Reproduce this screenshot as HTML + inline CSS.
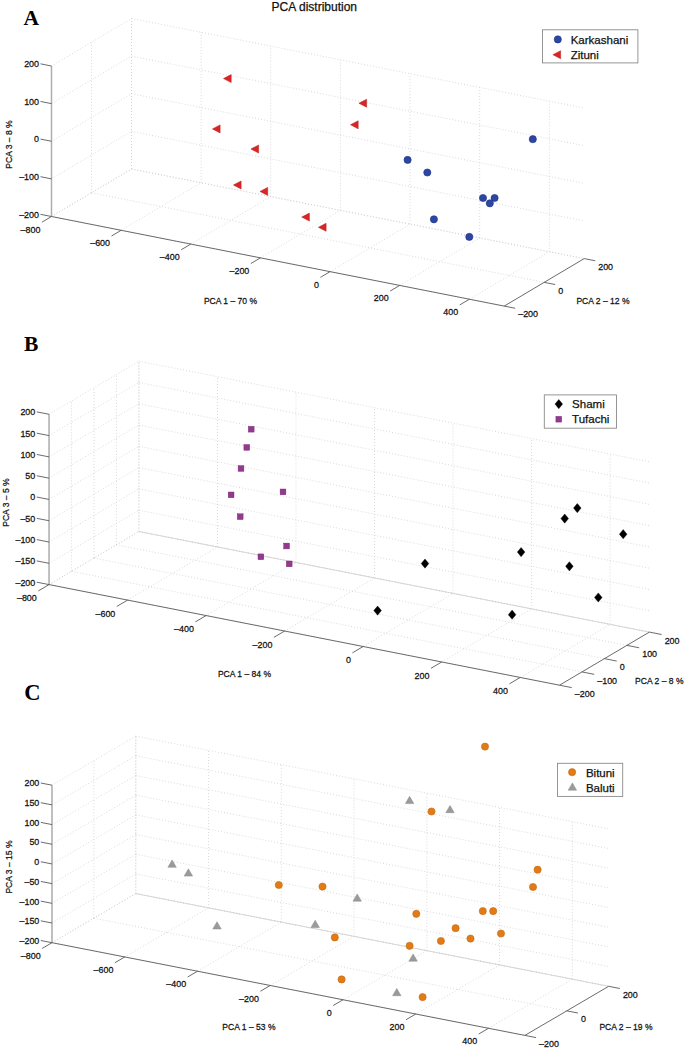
<!DOCTYPE html>
<html><head><meta charset="utf-8"><title>PCA distribution</title>
<style>html,body{margin:0;padding:0;background:#fff;}body{width:685px;height:1049px;overflow:hidden;font-family:"Liberation Sans",sans-serif;}svg{display:block;}</style>
</head><body>
<svg width="685" height="1049" viewBox="0 0 685 1049">
<rect width="100%" height="100%" fill="#fff"/>
<text transform="translate(23.5 24.5)" font-size="21.5" text-anchor="start" fill="#000" font-family='"Liberation Serif", serif' font-weight="bold">A</text>
<text transform="translate(24 351.2)" font-size="21.5" text-anchor="start" fill="#000" font-family='"Liberation Serif", serif' font-weight="bold">B</text>
<text transform="translate(24.2 699.6)" font-size="22.5" text-anchor="start" fill="#000" font-family='"Liberation Serif", serif' font-weight="bold">C</text>
<text transform="translate(314.3 10.5)" font-size="12" text-anchor="middle" fill="#111" font-family='"Liberation Sans", sans-serif' font-weight="normal" stroke="#111" stroke-width="0.25">PCA distribution</text>
<line x1="51.5" y1="216.5" x2="131.5" y2="169" stroke="#cbcbcb" stroke-width="0.8" stroke-dasharray="0.9 2.1"/>
<line x1="121.15" y1="230.28" x2="201.15" y2="182.78" stroke="#cbcbcb" stroke-width="0.8" stroke-dasharray="0.9 2.1"/>
<line x1="190.79" y1="244.07" x2="270.79" y2="196.57" stroke="#cbcbcb" stroke-width="0.8" stroke-dasharray="0.9 2.1"/>
<line x1="260.44" y1="257.85" x2="340.44" y2="210.35" stroke="#cbcbcb" stroke-width="0.8" stroke-dasharray="0.9 2.1"/>
<line x1="330.08" y1="271.64" x2="410.08" y2="224.14" stroke="#cbcbcb" stroke-width="0.8" stroke-dasharray="0.9 2.1"/>
<line x1="399.73" y1="285.42" x2="479.73" y2="237.92" stroke="#cbcbcb" stroke-width="0.8" stroke-dasharray="0.9 2.1"/>
<line x1="469.38" y1="299.2" x2="549.38" y2="251.7" stroke="#cbcbcb" stroke-width="0.8" stroke-dasharray="0.9 2.1"/>
<line x1="51.5" y1="216.5" x2="504.2" y2="306.1" stroke="#cbcbcb" stroke-width="0.8" stroke-dasharray="0.9 2.1"/>
<line x1="91.5" y1="192.75" x2="544.2" y2="282.35" stroke="#cbcbcb" stroke-width="0.8" stroke-dasharray="0.9 2.1"/>
<line x1="131.5" y1="169" x2="584.2" y2="258.6" stroke="#cbcbcb" stroke-width="0.8" stroke-dasharray="0.9 2.1"/>
<line x1="131.5" y1="169" x2="131.5" y2="18.5" stroke="#cbcbcb" stroke-width="0.8" stroke-dasharray="0.9 2.1"/>
<line x1="201.15" y1="182.78" x2="201.15" y2="32.28" stroke="#cbcbcb" stroke-width="0.8" stroke-dasharray="0.9 2.1"/>
<line x1="270.79" y1="196.57" x2="270.79" y2="46.07" stroke="#cbcbcb" stroke-width="0.8" stroke-dasharray="0.9 2.1"/>
<line x1="340.44" y1="210.35" x2="340.44" y2="59.85" stroke="#cbcbcb" stroke-width="0.8" stroke-dasharray="0.9 2.1"/>
<line x1="410.08" y1="224.14" x2="410.08" y2="73.64" stroke="#cbcbcb" stroke-width="0.8" stroke-dasharray="0.9 2.1"/>
<line x1="479.73" y1="237.92" x2="479.73" y2="87.42" stroke="#cbcbcb" stroke-width="0.8" stroke-dasharray="0.9 2.1"/>
<line x1="549.38" y1="251.7" x2="549.38" y2="101.2" stroke="#cbcbcb" stroke-width="0.8" stroke-dasharray="0.9 2.1"/>
<line x1="131.5" y1="169" x2="584.2" y2="258.6" stroke="#cbcbcb" stroke-width="0.8" stroke-dasharray="0.9 2.1"/>
<line x1="131.5" y1="131.38" x2="584.2" y2="220.97" stroke="#cbcbcb" stroke-width="0.8" stroke-dasharray="0.9 2.1"/>
<line x1="131.5" y1="93.75" x2="584.2" y2="183.35" stroke="#cbcbcb" stroke-width="0.8" stroke-dasharray="0.9 2.1"/>
<line x1="131.5" y1="56.13" x2="584.2" y2="145.72" stroke="#cbcbcb" stroke-width="0.8" stroke-dasharray="0.9 2.1"/>
<line x1="131.5" y1="18.5" x2="584.2" y2="108.1" stroke="#cbcbcb" stroke-width="0.8" stroke-dasharray="0.9 2.1"/>
<line x1="51.5" y1="216.5" x2="51.5" y2="66" stroke="#cbcbcb" stroke-width="0.8" stroke-dasharray="0.9 2.1"/>
<line x1="91.5" y1="192.75" x2="91.5" y2="42.25" stroke="#cbcbcb" stroke-width="0.8" stroke-dasharray="0.9 2.1"/>
<line x1="131.5" y1="169" x2="131.5" y2="18.5" stroke="#cbcbcb" stroke-width="0.8" stroke-dasharray="0.9 2.1"/>
<line x1="51.5" y1="216.5" x2="131.5" y2="169" stroke="#cbcbcb" stroke-width="0.8" stroke-dasharray="0.9 2.1"/>
<line x1="51.5" y1="178.88" x2="131.5" y2="131.38" stroke="#cbcbcb" stroke-width="0.8" stroke-dasharray="0.9 2.1"/>
<line x1="51.5" y1="141.25" x2="131.5" y2="93.75" stroke="#cbcbcb" stroke-width="0.8" stroke-dasharray="0.9 2.1"/>
<line x1="51.5" y1="103.63" x2="131.5" y2="56.13" stroke="#cbcbcb" stroke-width="0.8" stroke-dasharray="0.9 2.1"/>
<line x1="51.5" y1="66" x2="131.5" y2="18.5" stroke="#cbcbcb" stroke-width="0.8" stroke-dasharray="0.9 2.1"/>
<line x1="51.5" y1="216.5" x2="51.5" y2="66" stroke="#adadad" stroke-width="1.5"/>
<line x1="51.5" y1="216.5" x2="504.2" y2="306.1" stroke="#5a5a5a" stroke-width="0.9"/>
<line x1="504.2" y1="306.1" x2="584.2" y2="258.6" stroke="#5a5a5a" stroke-width="0.9"/>
<line x1="51.5" y1="216.5" x2="40.51" y2="214.33" stroke="#5a5a5a" stroke-width="0.9"/>
<text transform="translate(39.01 217.73) scale(0.95 1)" font-size="9.4" text-anchor="end" fill="#111" font-family='"Liberation Sans", sans-serif' font-weight="normal" stroke="#111" stroke-width="0.25">–200</text>
<line x1="51.5" y1="178.88" x2="40.51" y2="176.7" stroke="#5a5a5a" stroke-width="0.9"/>
<text transform="translate(39.01 180.1) scale(0.95 1)" font-size="9.4" text-anchor="end" fill="#111" font-family='"Liberation Sans", sans-serif' font-weight="normal" stroke="#111" stroke-width="0.25">–100</text>
<line x1="51.5" y1="141.25" x2="40.51" y2="139.08" stroke="#5a5a5a" stroke-width="0.9"/>
<text transform="translate(39.01 142.48) scale(0.95 1)" font-size="9.4" text-anchor="end" fill="#111" font-family='"Liberation Sans", sans-serif' font-weight="normal" stroke="#111" stroke-width="0.25">0</text>
<line x1="51.5" y1="103.63" x2="40.51" y2="101.45" stroke="#5a5a5a" stroke-width="0.9"/>
<text transform="translate(39.01 104.85) scale(0.95 1)" font-size="9.4" text-anchor="end" fill="#111" font-family='"Liberation Sans", sans-serif' font-weight="normal" stroke="#111" stroke-width="0.25">100</text>
<line x1="51.5" y1="66" x2="40.51" y2="63.83" stroke="#5a5a5a" stroke-width="0.9"/>
<text transform="translate(39.01 67.23) scale(0.95 1)" font-size="9.4" text-anchor="end" fill="#111" font-family='"Liberation Sans", sans-serif' font-weight="normal" stroke="#111" stroke-width="0.25">200</text>
<line x1="51.5" y1="216.5" x2="41.87" y2="222.22" stroke="#5a5a5a" stroke-width="0.9"/>
<text transform="translate(40.37 232.52) scale(0.95 1)" font-size="9.4" text-anchor="end" fill="#111" font-family='"Liberation Sans", sans-serif' font-weight="normal" stroke="#111" stroke-width="0.25">–800</text>
<line x1="121.15" y1="230.28" x2="111.52" y2="236" stroke="#5a5a5a" stroke-width="0.9"/>
<text transform="translate(110.02 246.3) scale(0.95 1)" font-size="9.4" text-anchor="end" fill="#111" font-family='"Liberation Sans", sans-serif' font-weight="normal" stroke="#111" stroke-width="0.25">–600</text>
<line x1="190.79" y1="244.07" x2="181.16" y2="249.79" stroke="#5a5a5a" stroke-width="0.9"/>
<text transform="translate(179.66 260.09) scale(0.95 1)" font-size="9.4" text-anchor="end" fill="#111" font-family='"Liberation Sans", sans-serif' font-weight="normal" stroke="#111" stroke-width="0.25">–400</text>
<line x1="260.44" y1="257.85" x2="250.81" y2="263.57" stroke="#5a5a5a" stroke-width="0.9"/>
<text transform="translate(249.31 273.87) scale(0.95 1)" font-size="9.4" text-anchor="end" fill="#111" font-family='"Liberation Sans", sans-serif' font-weight="normal" stroke="#111" stroke-width="0.25">–200</text>
<line x1="330.08" y1="271.64" x2="320.45" y2="277.35" stroke="#5a5a5a" stroke-width="0.9"/>
<text transform="translate(318.95 287.65) scale(0.95 1)" font-size="9.4" text-anchor="end" fill="#111" font-family='"Liberation Sans", sans-serif' font-weight="normal" stroke="#111" stroke-width="0.25">0</text>
<line x1="399.73" y1="285.42" x2="390.1" y2="291.14" stroke="#5a5a5a" stroke-width="0.9"/>
<text transform="translate(388.6 301.44) scale(0.95 1)" font-size="9.4" text-anchor="end" fill="#111" font-family='"Liberation Sans", sans-serif' font-weight="normal" stroke="#111" stroke-width="0.25">200</text>
<line x1="469.38" y1="299.2" x2="459.75" y2="304.92" stroke="#5a5a5a" stroke-width="0.9"/>
<text transform="translate(458.25 315.22) scale(0.95 1)" font-size="9.4" text-anchor="end" fill="#111" font-family='"Liberation Sans", sans-serif' font-weight="normal" stroke="#111" stroke-width="0.25">400</text>
<line x1="504.2" y1="306.1" x2="515.19" y2="308.27" stroke="#5a5a5a" stroke-width="0.9"/>
<text transform="translate(518.19 317.47) scale(0.95 1)" font-size="9.4" text-anchor="start" fill="#111" font-family='"Liberation Sans", sans-serif' font-weight="normal" stroke="#111" stroke-width="0.25">–200</text>
<line x1="544.2" y1="282.35" x2="555.19" y2="284.52" stroke="#5a5a5a" stroke-width="0.9"/>
<text transform="translate(558.19 293.72) scale(0.95 1)" font-size="9.4" text-anchor="start" fill="#111" font-family='"Liberation Sans", sans-serif' font-weight="normal" stroke="#111" stroke-width="0.25">0</text>
<line x1="584.2" y1="258.6" x2="595.19" y2="260.77" stroke="#5a5a5a" stroke-width="0.9"/>
<text transform="translate(598.19 269.97) scale(0.95 1)" font-size="9.4" text-anchor="start" fill="#111" font-family='"Liberation Sans", sans-serif' font-weight="normal" stroke="#111" stroke-width="0.25">200</text>
<text transform="translate(230.5 304.3) scale(0.89 1)" font-size="9.6" text-anchor="middle" fill="#111" font-family='"Liberation Sans", sans-serif' font-weight="normal" stroke="#111" stroke-width="0.25">PCA 1 – 70 %</text>
<text transform="translate(603 304.3) scale(0.89 1)" font-size="9.6" text-anchor="middle" fill="#111" font-family='"Liberation Sans", sans-serif' font-weight="normal" stroke="#111" stroke-width="0.25">PCA 2 – 12 %</text>
<text transform="translate(11.8 144.5) rotate(-90) scale(0.89 1)" font-size="9.6" text-anchor="middle" fill="#111" font-family='"Liberation Sans", sans-serif' font-weight="normal" stroke="#111" stroke-width="0.25">PCA 3 – 8 %</text>
<polygon points="223.5,78.6 231.2,74.6 231.2,82.6" fill="#dd2424" stroke="#b01e1e" stroke-width="0.5"/>
<polygon points="358.9,103.2 366.6,99.2 366.6,107.2" fill="#dd2424" stroke="#b01e1e" stroke-width="0.5"/>
<polygon points="350.5,124.8 358.2,120.8 358.2,128.8" fill="#dd2424" stroke="#b01e1e" stroke-width="0.5"/>
<polygon points="212.4,128.9 220.1,124.9 220.1,132.9" fill="#dd2424" stroke="#b01e1e" stroke-width="0.5"/>
<polygon points="250.9,149 258.6,145 258.6,153" fill="#dd2424" stroke="#b01e1e" stroke-width="0.5"/>
<polygon points="233.4,185 241.1,181 241.1,189" fill="#dd2424" stroke="#b01e1e" stroke-width="0.5"/>
<polygon points="260,191.4 267.7,187.4 267.7,195.4" fill="#dd2424" stroke="#b01e1e" stroke-width="0.5"/>
<polygon points="301.7,217.1 309.4,213.1 309.4,221.1" fill="#dd2424" stroke="#b01e1e" stroke-width="0.5"/>
<polygon points="318.4,227.3 326.1,223.3 326.1,231.3" fill="#dd2424" stroke="#b01e1e" stroke-width="0.5"/>
<circle cx="532.8" cy="139.2" r="3.6" fill="#2b46a3" stroke="#1f3385" stroke-width="0.6"/>
<circle cx="407.6" cy="159.9" r="3.6" fill="#2b46a3" stroke="#1f3385" stroke-width="0.6"/>
<circle cx="427.3" cy="172.5" r="3.6" fill="#2b46a3" stroke="#1f3385" stroke-width="0.6"/>
<circle cx="483" cy="198" r="3.6" fill="#2b46a3" stroke="#1f3385" stroke-width="0.6"/>
<circle cx="494.6" cy="198" r="3.6" fill="#2b46a3" stroke="#1f3385" stroke-width="0.6"/>
<circle cx="489.8" cy="203.3" r="3.6" fill="#2b46a3" stroke="#1f3385" stroke-width="0.6"/>
<circle cx="433.9" cy="219.3" r="3.6" fill="#2b46a3" stroke="#1f3385" stroke-width="0.6"/>
<circle cx="469.3" cy="236.9" r="3.6" fill="#2b46a3" stroke="#1f3385" stroke-width="0.6"/>
<rect x="542.5" y="29.8" width="95.4" height="33.1" fill="#fff" stroke="#8a8a8a" stroke-width="0.9"/>
<circle cx="557.8" cy="39.4" r="3.6" fill="#2b46a3" stroke="#1f3385" stroke-width="0.6"/>
<text transform="translate(570.7 43.5)" font-size="11.5" text-anchor="start" fill="#111" font-family='"Liberation Sans", sans-serif' font-weight="normal" stroke="#111" stroke-width="0.25">Karkashani</text>
<polygon points="552.9,54.7 560.6,50.7 560.6,58.7" fill="#dd2424" stroke="#b01e1e" stroke-width="0.5"/>
<text transform="translate(570.7 58.8)" font-size="11.5" text-anchor="start" fill="#111" font-family='"Liberation Sans", sans-serif' font-weight="normal" stroke="#111" stroke-width="0.25">Zituni</text>
<line x1="49.05" y1="584.6" x2="138.95" y2="531.5" stroke="#cbcbcb" stroke-width="0.8" stroke-dasharray="0.9 2.1"/>
<line x1="127.58" y1="600.08" x2="217.48" y2="546.98" stroke="#cbcbcb" stroke-width="0.8" stroke-dasharray="0.9 2.1"/>
<line x1="206.11" y1="615.55" x2="296.01" y2="562.45" stroke="#cbcbcb" stroke-width="0.8" stroke-dasharray="0.9 2.1"/>
<line x1="284.64" y1="631.03" x2="374.54" y2="577.93" stroke="#cbcbcb" stroke-width="0.8" stroke-dasharray="0.9 2.1"/>
<line x1="363.17" y1="646.5" x2="453.07" y2="593.4" stroke="#cbcbcb" stroke-width="0.8" stroke-dasharray="0.9 2.1"/>
<line x1="441.7" y1="661.98" x2="531.6" y2="608.88" stroke="#cbcbcb" stroke-width="0.8" stroke-dasharray="0.9 2.1"/>
<line x1="520.23" y1="677.46" x2="610.13" y2="624.36" stroke="#cbcbcb" stroke-width="0.8" stroke-dasharray="0.9 2.1"/>
<line x1="49.05" y1="584.6" x2="559.5" y2="685.19" stroke="#cbcbcb" stroke-width="0.8" stroke-dasharray="0.9 2.1"/>
<line x1="71.53" y1="571.33" x2="581.97" y2="671.92" stroke="#cbcbcb" stroke-width="0.8" stroke-dasharray="0.9 2.1"/>
<line x1="94" y1="558.05" x2="604.45" y2="658.64" stroke="#cbcbcb" stroke-width="0.8" stroke-dasharray="0.9 2.1"/>
<line x1="116.47" y1="544.77" x2="626.92" y2="645.37" stroke="#cbcbcb" stroke-width="0.8" stroke-dasharray="0.9 2.1"/>
<line x1="138.95" y1="531.5" x2="649.39" y2="632.09" stroke="#cbcbcb" stroke-width="0.8" stroke-dasharray="0.9 2.1"/>
<line x1="138.95" y1="531.5" x2="138.95" y2="361.2" stroke="#cbcbcb" stroke-width="0.8" stroke-dasharray="0.9 2.1"/>
<line x1="217.48" y1="546.98" x2="217.48" y2="376.68" stroke="#cbcbcb" stroke-width="0.8" stroke-dasharray="0.9 2.1"/>
<line x1="296.01" y1="562.45" x2="296.01" y2="392.15" stroke="#cbcbcb" stroke-width="0.8" stroke-dasharray="0.9 2.1"/>
<line x1="374.54" y1="577.93" x2="374.54" y2="407.63" stroke="#cbcbcb" stroke-width="0.8" stroke-dasharray="0.9 2.1"/>
<line x1="453.07" y1="593.4" x2="453.07" y2="423.1" stroke="#cbcbcb" stroke-width="0.8" stroke-dasharray="0.9 2.1"/>
<line x1="531.6" y1="608.88" x2="531.6" y2="438.58" stroke="#cbcbcb" stroke-width="0.8" stroke-dasharray="0.9 2.1"/>
<line x1="610.13" y1="624.36" x2="610.13" y2="454.06" stroke="#cbcbcb" stroke-width="0.8" stroke-dasharray="0.9 2.1"/>
<line x1="138.95" y1="531.5" x2="649.39" y2="632.09" stroke="#cbcbcb" stroke-width="0.8" stroke-dasharray="0.9 2.1"/>
<line x1="138.95" y1="510.21" x2="649.39" y2="610.81" stroke="#cbcbcb" stroke-width="0.8" stroke-dasharray="0.9 2.1"/>
<line x1="138.95" y1="488.93" x2="649.39" y2="589.52" stroke="#cbcbcb" stroke-width="0.8" stroke-dasharray="0.9 2.1"/>
<line x1="138.95" y1="467.64" x2="649.39" y2="568.23" stroke="#cbcbcb" stroke-width="0.8" stroke-dasharray="0.9 2.1"/>
<line x1="138.95" y1="446.35" x2="649.39" y2="546.94" stroke="#cbcbcb" stroke-width="0.8" stroke-dasharray="0.9 2.1"/>
<line x1="138.95" y1="425.06" x2="649.39" y2="525.66" stroke="#cbcbcb" stroke-width="0.8" stroke-dasharray="0.9 2.1"/>
<line x1="138.95" y1="403.77" x2="649.39" y2="504.37" stroke="#cbcbcb" stroke-width="0.8" stroke-dasharray="0.9 2.1"/>
<line x1="138.95" y1="382.49" x2="649.39" y2="483.08" stroke="#cbcbcb" stroke-width="0.8" stroke-dasharray="0.9 2.1"/>
<line x1="138.95" y1="361.2" x2="649.39" y2="461.79" stroke="#cbcbcb" stroke-width="0.8" stroke-dasharray="0.9 2.1"/>
<line x1="49.05" y1="584.6" x2="49.05" y2="414.3" stroke="#cbcbcb" stroke-width="0.8" stroke-dasharray="0.9 2.1"/>
<line x1="71.53" y1="571.33" x2="71.53" y2="401.03" stroke="#cbcbcb" stroke-width="0.8" stroke-dasharray="0.9 2.1"/>
<line x1="94" y1="558.05" x2="94" y2="387.75" stroke="#cbcbcb" stroke-width="0.8" stroke-dasharray="0.9 2.1"/>
<line x1="116.47" y1="544.77" x2="116.47" y2="374.47" stroke="#cbcbcb" stroke-width="0.8" stroke-dasharray="0.9 2.1"/>
<line x1="138.95" y1="531.5" x2="138.95" y2="361.2" stroke="#cbcbcb" stroke-width="0.8" stroke-dasharray="0.9 2.1"/>
<line x1="49.05" y1="584.6" x2="138.95" y2="531.5" stroke="#cbcbcb" stroke-width="0.8" stroke-dasharray="0.9 2.1"/>
<line x1="49.05" y1="563.31" x2="138.95" y2="510.21" stroke="#cbcbcb" stroke-width="0.8" stroke-dasharray="0.9 2.1"/>
<line x1="49.05" y1="542.02" x2="138.95" y2="488.93" stroke="#cbcbcb" stroke-width="0.8" stroke-dasharray="0.9 2.1"/>
<line x1="49.05" y1="520.74" x2="138.95" y2="467.64" stroke="#cbcbcb" stroke-width="0.8" stroke-dasharray="0.9 2.1"/>
<line x1="49.05" y1="499.45" x2="138.95" y2="446.35" stroke="#cbcbcb" stroke-width="0.8" stroke-dasharray="0.9 2.1"/>
<line x1="49.05" y1="478.16" x2="138.95" y2="425.06" stroke="#cbcbcb" stroke-width="0.8" stroke-dasharray="0.9 2.1"/>
<line x1="49.05" y1="456.88" x2="138.95" y2="403.77" stroke="#cbcbcb" stroke-width="0.8" stroke-dasharray="0.9 2.1"/>
<line x1="49.05" y1="435.59" x2="138.95" y2="382.49" stroke="#cbcbcb" stroke-width="0.8" stroke-dasharray="0.9 2.1"/>
<line x1="49.05" y1="414.3" x2="138.95" y2="361.2" stroke="#cbcbcb" stroke-width="0.8" stroke-dasharray="0.9 2.1"/>
<line x1="138.95" y1="531.5" x2="649.39" y2="632.09" stroke="#d4d4d4" stroke-width="0.9"/>
<line x1="49.05" y1="584.6" x2="49.05" y2="414.3" stroke="#adadad" stroke-width="1.5"/>
<line x1="49.05" y1="584.6" x2="559.5" y2="685.19" stroke="#5a5a5a" stroke-width="0.9"/>
<line x1="559.5" y1="685.19" x2="649.39" y2="632.09" stroke="#5a5a5a" stroke-width="0.9"/>
<line x1="49.05" y1="584.6" x2="36.79" y2="582.18" stroke="#5a5a5a" stroke-width="0.9"/>
<text transform="translate(35.29 585.58) scale(0.95 1)" font-size="9.4" text-anchor="end" fill="#111" font-family='"Liberation Sans", sans-serif' font-weight="normal" stroke="#111" stroke-width="0.25">–200</text>
<line x1="49.05" y1="563.31" x2="36.79" y2="560.9" stroke="#5a5a5a" stroke-width="0.9"/>
<text transform="translate(35.29 564.3) scale(0.95 1)" font-size="9.4" text-anchor="end" fill="#111" font-family='"Liberation Sans", sans-serif' font-weight="normal" stroke="#111" stroke-width="0.25">–150</text>
<line x1="49.05" y1="542.02" x2="36.79" y2="539.61" stroke="#5a5a5a" stroke-width="0.9"/>
<text transform="translate(35.29 543.01) scale(0.95 1)" font-size="9.4" text-anchor="end" fill="#111" font-family='"Liberation Sans", sans-serif' font-weight="normal" stroke="#111" stroke-width="0.25">–100</text>
<line x1="49.05" y1="520.74" x2="36.79" y2="518.32" stroke="#5a5a5a" stroke-width="0.9"/>
<text transform="translate(35.29 521.72) scale(0.95 1)" font-size="9.4" text-anchor="end" fill="#111" font-family='"Liberation Sans", sans-serif' font-weight="normal" stroke="#111" stroke-width="0.25">–50</text>
<line x1="49.05" y1="499.45" x2="36.79" y2="497.03" stroke="#5a5a5a" stroke-width="0.9"/>
<text transform="translate(35.29 500.43) scale(0.95 1)" font-size="9.4" text-anchor="end" fill="#111" font-family='"Liberation Sans", sans-serif' font-weight="normal" stroke="#111" stroke-width="0.25">0</text>
<line x1="49.05" y1="478.16" x2="36.79" y2="475.75" stroke="#5a5a5a" stroke-width="0.9"/>
<text transform="translate(35.29 479.15) scale(0.95 1)" font-size="9.4" text-anchor="end" fill="#111" font-family='"Liberation Sans", sans-serif' font-weight="normal" stroke="#111" stroke-width="0.25">50</text>
<line x1="49.05" y1="456.88" x2="36.79" y2="454.46" stroke="#5a5a5a" stroke-width="0.9"/>
<text transform="translate(35.29 457.86) scale(0.95 1)" font-size="9.4" text-anchor="end" fill="#111" font-family='"Liberation Sans", sans-serif' font-weight="normal" stroke="#111" stroke-width="0.25">100</text>
<line x1="49.05" y1="435.59" x2="36.79" y2="433.17" stroke="#5a5a5a" stroke-width="0.9"/>
<text transform="translate(35.29 436.57) scale(0.95 1)" font-size="9.4" text-anchor="end" fill="#111" font-family='"Liberation Sans", sans-serif' font-weight="normal" stroke="#111" stroke-width="0.25">150</text>
<line x1="49.05" y1="414.3" x2="36.79" y2="411.88" stroke="#5a5a5a" stroke-width="0.9"/>
<text transform="translate(35.29 415.28) scale(0.95 1)" font-size="9.4" text-anchor="end" fill="#111" font-family='"Liberation Sans", sans-serif' font-weight="normal" stroke="#111" stroke-width="0.25">200</text>
<line x1="49.05" y1="584.6" x2="38.29" y2="590.96" stroke="#5a5a5a" stroke-width="0.9"/>
<text transform="translate(36.79 601.26) scale(0.95 1)" font-size="9.4" text-anchor="end" fill="#111" font-family='"Liberation Sans", sans-serif' font-weight="normal" stroke="#111" stroke-width="0.25">–800</text>
<line x1="127.58" y1="600.08" x2="116.82" y2="606.43" stroke="#5a5a5a" stroke-width="0.9"/>
<text transform="translate(115.32 616.73) scale(0.95 1)" font-size="9.4" text-anchor="end" fill="#111" font-family='"Liberation Sans", sans-serif' font-weight="normal" stroke="#111" stroke-width="0.25">–600</text>
<line x1="206.11" y1="615.55" x2="195.35" y2="621.91" stroke="#5a5a5a" stroke-width="0.9"/>
<text transform="translate(193.85 632.21) scale(0.95 1)" font-size="9.4" text-anchor="end" fill="#111" font-family='"Liberation Sans", sans-serif' font-weight="normal" stroke="#111" stroke-width="0.25">–400</text>
<line x1="284.64" y1="631.03" x2="273.88" y2="637.39" stroke="#5a5a5a" stroke-width="0.9"/>
<text transform="translate(272.38 647.69) scale(0.95 1)" font-size="9.4" text-anchor="end" fill="#111" font-family='"Liberation Sans", sans-serif' font-weight="normal" stroke="#111" stroke-width="0.25">–200</text>
<line x1="363.17" y1="646.5" x2="352.41" y2="652.86" stroke="#5a5a5a" stroke-width="0.9"/>
<text transform="translate(350.91 663.16) scale(0.95 1)" font-size="9.4" text-anchor="end" fill="#111" font-family='"Liberation Sans", sans-serif' font-weight="normal" stroke="#111" stroke-width="0.25">0</text>
<line x1="441.7" y1="661.98" x2="430.94" y2="668.34" stroke="#5a5a5a" stroke-width="0.9"/>
<text transform="translate(429.44 678.64) scale(0.95 1)" font-size="9.4" text-anchor="end" fill="#111" font-family='"Liberation Sans", sans-serif' font-weight="normal" stroke="#111" stroke-width="0.25">200</text>
<line x1="520.23" y1="677.46" x2="509.47" y2="683.81" stroke="#5a5a5a" stroke-width="0.9"/>
<text transform="translate(507.97 694.11) scale(0.95 1)" font-size="9.4" text-anchor="end" fill="#111" font-family='"Liberation Sans", sans-serif' font-weight="normal" stroke="#111" stroke-width="0.25">400</text>
<line x1="559.5" y1="685.19" x2="571.76" y2="687.61" stroke="#5a5a5a" stroke-width="0.9"/>
<text transform="translate(574.76 696.81) scale(0.95 1)" font-size="9.4" text-anchor="start" fill="#111" font-family='"Liberation Sans", sans-serif' font-weight="normal" stroke="#111" stroke-width="0.25">–200</text>
<line x1="581.97" y1="671.92" x2="594.23" y2="674.34" stroke="#5a5a5a" stroke-width="0.9"/>
<text transform="translate(597.23 683.54) scale(0.95 1)" font-size="9.4" text-anchor="start" fill="#111" font-family='"Liberation Sans", sans-serif' font-weight="normal" stroke="#111" stroke-width="0.25">–100</text>
<line x1="604.45" y1="658.64" x2="616.71" y2="661.06" stroke="#5a5a5a" stroke-width="0.9"/>
<text transform="translate(619.71 670.26) scale(0.95 1)" font-size="9.4" text-anchor="start" fill="#111" font-family='"Liberation Sans", sans-serif' font-weight="normal" stroke="#111" stroke-width="0.25">0</text>
<line x1="626.92" y1="645.37" x2="639.18" y2="647.79" stroke="#5a5a5a" stroke-width="0.9"/>
<text transform="translate(642.18 656.99) scale(0.95 1)" font-size="9.4" text-anchor="start" fill="#111" font-family='"Liberation Sans", sans-serif' font-weight="normal" stroke="#111" stroke-width="0.25">100</text>
<line x1="649.39" y1="632.09" x2="661.66" y2="634.51" stroke="#5a5a5a" stroke-width="0.9"/>
<text transform="translate(664.66 643.71) scale(0.95 1)" font-size="9.4" text-anchor="start" fill="#111" font-family='"Liberation Sans", sans-serif' font-weight="normal" stroke="#111" stroke-width="0.25">200</text>
<text transform="translate(244.5 677.3) scale(0.89 1)" font-size="9.6" text-anchor="middle" fill="#111" font-family='"Liberation Sans", sans-serif' font-weight="normal" stroke="#111" stroke-width="0.25">PCA 1 – 84 %</text>
<text transform="translate(659.3 684) scale(0.89 1)" font-size="9.6" text-anchor="middle" fill="#111" font-family='"Liberation Sans", sans-serif' font-weight="normal" stroke="#111" stroke-width="0.25">PCA 2 – 8 %</text>
<text transform="translate(8.6 502.6) rotate(-90) scale(0.89 1)" font-size="9.6" text-anchor="middle" fill="#111" font-family='"Liberation Sans", sans-serif' font-weight="normal" stroke="#111" stroke-width="0.25">PCA 3 – 5 %</text>
<rect x="248.3" y="426.3" width="5.8" height="5.8" fill="#94398f" stroke="#74296f" stroke-width="0.4"/>
<rect x="243.9" y="444.5" width="5.8" height="5.8" fill="#94398f" stroke="#74296f" stroke-width="0.4"/>
<rect x="238.1" y="465.6" width="5.8" height="5.8" fill="#94398f" stroke="#74296f" stroke-width="0.4"/>
<rect x="228.2" y="492" width="5.8" height="5.8" fill="#94398f" stroke="#74296f" stroke-width="0.4"/>
<rect x="280.1" y="489" width="5.8" height="5.8" fill="#94398f" stroke="#74296f" stroke-width="0.4"/>
<rect x="237.3" y="513.8" width="5.8" height="5.8" fill="#94398f" stroke="#74296f" stroke-width="0.4"/>
<rect x="283.7" y="543.1" width="5.8" height="5.8" fill="#94398f" stroke="#74296f" stroke-width="0.4"/>
<rect x="258" y="553.9" width="5.8" height="5.8" fill="#94398f" stroke="#74296f" stroke-width="0.4"/>
<rect x="286.3" y="561" width="5.8" height="5.8" fill="#94398f" stroke="#74296f" stroke-width="0.4"/>
<polygon points="577.3,503.5 581.1,508.1 577.3,512.7 573.5,508.1" fill="#000" stroke="#000" stroke-width="0.4"/>
<polygon points="564.7,514 568.5,518.6 564.7,523.2 560.9,518.6" fill="#000" stroke="#000" stroke-width="0.4"/>
<polygon points="623.2,529.6 627,534.2 623.2,538.8 619.4,534.2" fill="#000" stroke="#000" stroke-width="0.4"/>
<polygon points="521.1,547.5 524.9,552.1 521.1,556.7 517.3,552.1" fill="#000" stroke="#000" stroke-width="0.4"/>
<polygon points="425,559 428.8,563.6 425,568.2 421.2,563.6" fill="#000" stroke="#000" stroke-width="0.4"/>
<polygon points="569.4,561.7 573.2,566.3 569.4,570.9 565.6,566.3" fill="#000" stroke="#000" stroke-width="0.4"/>
<polygon points="598.3,592.9 602.1,597.5 598.3,602.1 594.5,597.5" fill="#000" stroke="#000" stroke-width="0.4"/>
<polygon points="377.6,606 381.4,610.6 377.6,615.2 373.8,610.6" fill="#000" stroke="#000" stroke-width="0.4"/>
<polygon points="512.1,610.1 515.9,614.7 512.1,619.3 508.3,614.7" fill="#000" stroke="#000" stroke-width="0.4"/>
<rect x="544.3" y="394.9" width="72.2" height="33.3" fill="#fff" stroke="#8a8a8a" stroke-width="0.9"/>
<polygon points="558.8,399.5 562.6,404.1 558.8,408.7 555,404.1" fill="#000" stroke="#000" stroke-width="0.4"/>
<text transform="translate(572.1 408.2)" font-size="11.5" text-anchor="start" fill="#111" font-family='"Liberation Sans", sans-serif' font-weight="normal" stroke="#111" stroke-width="0.25">Shami</text>
<rect x="555.9" y="416.3" width="5.8" height="5.8" fill="#94398f" stroke="#74296f" stroke-width="0.4"/>
<text transform="translate(572.1 423.3)" font-size="11.5" text-anchor="start" fill="#111" font-family='"Liberation Sans", sans-serif' font-weight="normal" stroke="#111" stroke-width="0.25">Tufachi</text>
<line x1="52" y1="942.7" x2="135.8" y2="893.6" stroke="#cbcbcb" stroke-width="0.8" stroke-dasharray="0.9 2.1"/>
<line x1="124.75" y1="956.96" x2="208.55" y2="907.86" stroke="#cbcbcb" stroke-width="0.8" stroke-dasharray="0.9 2.1"/>
<line x1="197.51" y1="971.22" x2="281.31" y2="922.12" stroke="#cbcbcb" stroke-width="0.8" stroke-dasharray="0.9 2.1"/>
<line x1="270.26" y1="985.49" x2="354.06" y2="936.39" stroke="#cbcbcb" stroke-width="0.8" stroke-dasharray="0.9 2.1"/>
<line x1="343.02" y1="999.75" x2="426.82" y2="950.65" stroke="#cbcbcb" stroke-width="0.8" stroke-dasharray="0.9 2.1"/>
<line x1="415.77" y1="1014.01" x2="499.57" y2="964.91" stroke="#cbcbcb" stroke-width="0.8" stroke-dasharray="0.9 2.1"/>
<line x1="488.52" y1="1028.27" x2="572.32" y2="979.17" stroke="#cbcbcb" stroke-width="0.8" stroke-dasharray="0.9 2.1"/>
<line x1="52" y1="942.7" x2="524.9" y2="1035.4" stroke="#cbcbcb" stroke-width="0.8" stroke-dasharray="0.9 2.1"/>
<line x1="93.9" y1="918.15" x2="566.8" y2="1010.85" stroke="#cbcbcb" stroke-width="0.8" stroke-dasharray="0.9 2.1"/>
<line x1="135.8" y1="893.6" x2="608.7" y2="986.3" stroke="#cbcbcb" stroke-width="0.8" stroke-dasharray="0.9 2.1"/>
<line x1="135.8" y1="893.6" x2="135.8" y2="736.1" stroke="#cbcbcb" stroke-width="0.8" stroke-dasharray="0.9 2.1"/>
<line x1="208.55" y1="907.86" x2="208.55" y2="750.36" stroke="#cbcbcb" stroke-width="0.8" stroke-dasharray="0.9 2.1"/>
<line x1="281.31" y1="922.12" x2="281.31" y2="764.62" stroke="#cbcbcb" stroke-width="0.8" stroke-dasharray="0.9 2.1"/>
<line x1="354.06" y1="936.39" x2="354.06" y2="778.89" stroke="#cbcbcb" stroke-width="0.8" stroke-dasharray="0.9 2.1"/>
<line x1="426.82" y1="950.65" x2="426.82" y2="793.15" stroke="#cbcbcb" stroke-width="0.8" stroke-dasharray="0.9 2.1"/>
<line x1="499.57" y1="964.91" x2="499.57" y2="807.41" stroke="#cbcbcb" stroke-width="0.8" stroke-dasharray="0.9 2.1"/>
<line x1="572.32" y1="979.17" x2="572.32" y2="821.67" stroke="#cbcbcb" stroke-width="0.8" stroke-dasharray="0.9 2.1"/>
<line x1="135.8" y1="893.6" x2="608.7" y2="986.3" stroke="#cbcbcb" stroke-width="0.8" stroke-dasharray="0.9 2.1"/>
<line x1="135.8" y1="873.91" x2="608.7" y2="966.62" stroke="#cbcbcb" stroke-width="0.8" stroke-dasharray="0.9 2.1"/>
<line x1="135.8" y1="854.23" x2="608.7" y2="946.93" stroke="#cbcbcb" stroke-width="0.8" stroke-dasharray="0.9 2.1"/>
<line x1="135.8" y1="834.54" x2="608.7" y2="927.24" stroke="#cbcbcb" stroke-width="0.8" stroke-dasharray="0.9 2.1"/>
<line x1="135.8" y1="814.85" x2="608.7" y2="907.55" stroke="#cbcbcb" stroke-width="0.8" stroke-dasharray="0.9 2.1"/>
<line x1="135.8" y1="795.16" x2="608.7" y2="887.87" stroke="#cbcbcb" stroke-width="0.8" stroke-dasharray="0.9 2.1"/>
<line x1="135.8" y1="775.48" x2="608.7" y2="868.18" stroke="#cbcbcb" stroke-width="0.8" stroke-dasharray="0.9 2.1"/>
<line x1="135.8" y1="755.79" x2="608.7" y2="848.49" stroke="#cbcbcb" stroke-width="0.8" stroke-dasharray="0.9 2.1"/>
<line x1="135.8" y1="736.1" x2="608.7" y2="828.8" stroke="#cbcbcb" stroke-width="0.8" stroke-dasharray="0.9 2.1"/>
<line x1="52" y1="942.7" x2="52" y2="785.2" stroke="#cbcbcb" stroke-width="0.8" stroke-dasharray="0.9 2.1"/>
<line x1="93.9" y1="918.15" x2="93.9" y2="760.65" stroke="#cbcbcb" stroke-width="0.8" stroke-dasharray="0.9 2.1"/>
<line x1="135.8" y1="893.6" x2="135.8" y2="736.1" stroke="#cbcbcb" stroke-width="0.8" stroke-dasharray="0.9 2.1"/>
<line x1="52" y1="942.7" x2="135.8" y2="893.6" stroke="#cbcbcb" stroke-width="0.8" stroke-dasharray="0.9 2.1"/>
<line x1="52" y1="923.01" x2="135.8" y2="873.91" stroke="#cbcbcb" stroke-width="0.8" stroke-dasharray="0.9 2.1"/>
<line x1="52" y1="903.33" x2="135.8" y2="854.23" stroke="#cbcbcb" stroke-width="0.8" stroke-dasharray="0.9 2.1"/>
<line x1="52" y1="883.64" x2="135.8" y2="834.54" stroke="#cbcbcb" stroke-width="0.8" stroke-dasharray="0.9 2.1"/>
<line x1="52" y1="863.95" x2="135.8" y2="814.85" stroke="#cbcbcb" stroke-width="0.8" stroke-dasharray="0.9 2.1"/>
<line x1="52" y1="844.26" x2="135.8" y2="795.16" stroke="#cbcbcb" stroke-width="0.8" stroke-dasharray="0.9 2.1"/>
<line x1="52" y1="824.58" x2="135.8" y2="775.48" stroke="#cbcbcb" stroke-width="0.8" stroke-dasharray="0.9 2.1"/>
<line x1="52" y1="804.89" x2="135.8" y2="755.79" stroke="#cbcbcb" stroke-width="0.8" stroke-dasharray="0.9 2.1"/>
<line x1="52" y1="785.2" x2="135.8" y2="736.1" stroke="#cbcbcb" stroke-width="0.8" stroke-dasharray="0.9 2.1"/>
<line x1="135.8" y1="893.6" x2="608.7" y2="986.3" stroke="#d4d4d4" stroke-width="0.9"/>
<line x1="52" y1="942.7" x2="52" y2="785.2" stroke="#adadad" stroke-width="1.5"/>
<line x1="52" y1="942.7" x2="524.9" y2="1035.4" stroke="#5a5a5a" stroke-width="0.9"/>
<line x1="524.9" y1="1035.4" x2="608.7" y2="986.3" stroke="#5a5a5a" stroke-width="0.9"/>
<line x1="52" y1="942.7" x2="40.81" y2="940.51" stroke="#5a5a5a" stroke-width="0.9"/>
<text transform="translate(39.31 943.91) scale(0.95 1)" font-size="9.4" text-anchor="end" fill="#111" font-family='"Liberation Sans", sans-serif' font-weight="normal" stroke="#111" stroke-width="0.25">–200</text>
<line x1="52" y1="923.01" x2="40.81" y2="920.82" stroke="#5a5a5a" stroke-width="0.9"/>
<text transform="translate(39.31 924.22) scale(0.95 1)" font-size="9.4" text-anchor="end" fill="#111" font-family='"Liberation Sans", sans-serif' font-weight="normal" stroke="#111" stroke-width="0.25">–150</text>
<line x1="52" y1="903.33" x2="40.81" y2="901.13" stroke="#5a5a5a" stroke-width="0.9"/>
<text transform="translate(39.31 904.53) scale(0.95 1)" font-size="9.4" text-anchor="end" fill="#111" font-family='"Liberation Sans", sans-serif' font-weight="normal" stroke="#111" stroke-width="0.25">–100</text>
<line x1="52" y1="883.64" x2="40.81" y2="881.44" stroke="#5a5a5a" stroke-width="0.9"/>
<text transform="translate(39.31 884.84) scale(0.95 1)" font-size="9.4" text-anchor="end" fill="#111" font-family='"Liberation Sans", sans-serif' font-weight="normal" stroke="#111" stroke-width="0.25">–50</text>
<line x1="52" y1="863.95" x2="40.81" y2="861.76" stroke="#5a5a5a" stroke-width="0.9"/>
<text transform="translate(39.31 865.16) scale(0.95 1)" font-size="9.4" text-anchor="end" fill="#111" font-family='"Liberation Sans", sans-serif' font-weight="normal" stroke="#111" stroke-width="0.25">0</text>
<line x1="52" y1="844.26" x2="40.81" y2="842.07" stroke="#5a5a5a" stroke-width="0.9"/>
<text transform="translate(39.31 845.47) scale(0.95 1)" font-size="9.4" text-anchor="end" fill="#111" font-family='"Liberation Sans", sans-serif' font-weight="normal" stroke="#111" stroke-width="0.25">50</text>
<line x1="52" y1="824.58" x2="40.81" y2="822.38" stroke="#5a5a5a" stroke-width="0.9"/>
<text transform="translate(39.31 825.78) scale(0.95 1)" font-size="9.4" text-anchor="end" fill="#111" font-family='"Liberation Sans", sans-serif' font-weight="normal" stroke="#111" stroke-width="0.25">100</text>
<line x1="52" y1="804.89" x2="40.81" y2="802.69" stroke="#5a5a5a" stroke-width="0.9"/>
<text transform="translate(39.31 806.09) scale(0.95 1)" font-size="9.4" text-anchor="end" fill="#111" font-family='"Liberation Sans", sans-serif' font-weight="normal" stroke="#111" stroke-width="0.25">150</text>
<line x1="52" y1="785.2" x2="40.81" y2="783.01" stroke="#5a5a5a" stroke-width="0.9"/>
<text transform="translate(39.31 786.41) scale(0.95 1)" font-size="9.4" text-anchor="end" fill="#111" font-family='"Liberation Sans", sans-serif' font-weight="normal" stroke="#111" stroke-width="0.25">200</text>
<line x1="52" y1="942.7" x2="42.16" y2="948.46" stroke="#5a5a5a" stroke-width="0.9"/>
<text transform="translate(40.66 958.76) scale(0.95 1)" font-size="9.4" text-anchor="end" fill="#111" font-family='"Liberation Sans", sans-serif' font-weight="normal" stroke="#111" stroke-width="0.25">–800</text>
<line x1="124.75" y1="956.96" x2="114.92" y2="962.73" stroke="#5a5a5a" stroke-width="0.9"/>
<text transform="translate(113.42 973.03) scale(0.95 1)" font-size="9.4" text-anchor="end" fill="#111" font-family='"Liberation Sans", sans-serif' font-weight="normal" stroke="#111" stroke-width="0.25">–600</text>
<line x1="197.51" y1="971.22" x2="187.67" y2="976.99" stroke="#5a5a5a" stroke-width="0.9"/>
<text transform="translate(186.17 987.29) scale(0.95 1)" font-size="9.4" text-anchor="end" fill="#111" font-family='"Liberation Sans", sans-serif' font-weight="normal" stroke="#111" stroke-width="0.25">–400</text>
<line x1="270.26" y1="985.49" x2="260.43" y2="991.25" stroke="#5a5a5a" stroke-width="0.9"/>
<text transform="translate(258.93 1001.55) scale(0.95 1)" font-size="9.4" text-anchor="end" fill="#111" font-family='"Liberation Sans", sans-serif' font-weight="normal" stroke="#111" stroke-width="0.25">–200</text>
<line x1="343.02" y1="999.75" x2="333.18" y2="1005.51" stroke="#5a5a5a" stroke-width="0.9"/>
<text transform="translate(331.68 1015.81) scale(0.95 1)" font-size="9.4" text-anchor="end" fill="#111" font-family='"Liberation Sans", sans-serif' font-weight="normal" stroke="#111" stroke-width="0.25">0</text>
<line x1="415.77" y1="1014.01" x2="405.93" y2="1019.77" stroke="#5a5a5a" stroke-width="0.9"/>
<text transform="translate(404.43 1030.07) scale(0.95 1)" font-size="9.4" text-anchor="end" fill="#111" font-family='"Liberation Sans", sans-serif' font-weight="normal" stroke="#111" stroke-width="0.25">200</text>
<line x1="488.52" y1="1028.27" x2="478.69" y2="1034.04" stroke="#5a5a5a" stroke-width="0.9"/>
<text transform="translate(477.19 1044.34) scale(0.95 1)" font-size="9.4" text-anchor="end" fill="#111" font-family='"Liberation Sans", sans-serif' font-weight="normal" stroke="#111" stroke-width="0.25">400</text>
<line x1="524.9" y1="1035.4" x2="536.09" y2="1037.6" stroke="#5a5a5a" stroke-width="0.9"/>
<text transform="translate(539.09 1046.8) scale(0.95 1)" font-size="9.4" text-anchor="start" fill="#111" font-family='"Liberation Sans", sans-serif' font-weight="normal" stroke="#111" stroke-width="0.25">–200</text>
<line x1="566.8" y1="1010.85" x2="577.99" y2="1013.05" stroke="#5a5a5a" stroke-width="0.9"/>
<text transform="translate(580.99 1022.25) scale(0.95 1)" font-size="9.4" text-anchor="start" fill="#111" font-family='"Liberation Sans", sans-serif' font-weight="normal" stroke="#111" stroke-width="0.25">0</text>
<line x1="608.7" y1="986.3" x2="619.89" y2="988.5" stroke="#5a5a5a" stroke-width="0.9"/>
<text transform="translate(622.89 997.7) scale(0.95 1)" font-size="9.4" text-anchor="start" fill="#111" font-family='"Liberation Sans", sans-serif' font-weight="normal" stroke="#111" stroke-width="0.25">200</text>
<text transform="translate(248.9 1029.7) scale(0.89 1)" font-size="9.6" text-anchor="middle" fill="#111" font-family='"Liberation Sans", sans-serif' font-weight="normal" stroke="#111" stroke-width="0.25">PCA 1 – 53 %</text>
<text transform="translate(626 1030.3) scale(0.89 1)" font-size="9.6" text-anchor="middle" fill="#111" font-family='"Liberation Sans", sans-serif' font-weight="normal" stroke="#111" stroke-width="0.25">PCA 2 – 19 %</text>
<text transform="translate(12.2 867) rotate(-90) scale(0.89 1)" font-size="9.6" text-anchor="middle" fill="#111" font-family='"Liberation Sans", sans-serif' font-weight="normal" stroke="#111" stroke-width="0.25">PCA 3 – 15 %</text>
<polygon points="172.1,860 176.3,867.3 167.9,867.3" fill="#9a9a9a" stroke="#8a8a8a" stroke-width="0.5"/>
<polygon points="188.4,868.8 192.6,876.1 184.2,876.1" fill="#9a9a9a" stroke="#8a8a8a" stroke-width="0.5"/>
<polygon points="357.2,893.9 361.4,901.2 353,901.2" fill="#9a9a9a" stroke="#8a8a8a" stroke-width="0.5"/>
<polygon points="217,921.7 221.2,929 212.8,929" fill="#9a9a9a" stroke="#8a8a8a" stroke-width="0.5"/>
<polygon points="315.2,920.2 319.4,927.5 311,927.5" fill="#9a9a9a" stroke="#8a8a8a" stroke-width="0.5"/>
<polygon points="409.6,796.3 413.8,803.6 405.4,803.6" fill="#9a9a9a" stroke="#8a8a8a" stroke-width="0.5"/>
<polygon points="450,805.4 454.2,812.7 445.8,812.7" fill="#9a9a9a" stroke="#8a8a8a" stroke-width="0.5"/>
<polygon points="413.1,953.9 417.3,961.2 408.9,961.2" fill="#9a9a9a" stroke="#8a8a8a" stroke-width="0.5"/>
<polygon points="396.8,988.4 401,995.7 392.6,995.7" fill="#9a9a9a" stroke="#8a8a8a" stroke-width="0.5"/>
<circle cx="278.8" cy="885" r="3.6" fill="#e07b16" stroke="#c86a10" stroke-width="0.6"/>
<circle cx="322.5" cy="886.6" r="3.6" fill="#e07b16" stroke="#c86a10" stroke-width="0.6"/>
<circle cx="334.8" cy="937.4" r="3.6" fill="#e07b16" stroke="#c86a10" stroke-width="0.6"/>
<circle cx="341.6" cy="979.4" r="3.6" fill="#e07b16" stroke="#c86a10" stroke-width="0.6"/>
<circle cx="485" cy="746.6" r="3.6" fill="#e07b16" stroke="#c86a10" stroke-width="0.6"/>
<circle cx="431.5" cy="811.5" r="3.6" fill="#e07b16" stroke="#c86a10" stroke-width="0.6"/>
<circle cx="537.6" cy="869.7" r="3.6" fill="#e07b16" stroke="#c86a10" stroke-width="0.6"/>
<circle cx="533" cy="887" r="3.6" fill="#e07b16" stroke="#c86a10" stroke-width="0.6"/>
<circle cx="416.3" cy="913.8" r="3.6" fill="#e07b16" stroke="#c86a10" stroke-width="0.6"/>
<circle cx="482.8" cy="911.1" r="3.6" fill="#e07b16" stroke="#c86a10" stroke-width="0.6"/>
<circle cx="493.2" cy="911.1" r="3.6" fill="#e07b16" stroke="#c86a10" stroke-width="0.6"/>
<circle cx="455.6" cy="928.2" r="3.6" fill="#e07b16" stroke="#c86a10" stroke-width="0.6"/>
<circle cx="501" cy="933.5" r="3.6" fill="#e07b16" stroke="#c86a10" stroke-width="0.6"/>
<circle cx="440.9" cy="941" r="3.6" fill="#e07b16" stroke="#c86a10" stroke-width="0.6"/>
<circle cx="470.5" cy="938.6" r="3.6" fill="#e07b16" stroke="#c86a10" stroke-width="0.6"/>
<circle cx="409.6" cy="945.8" r="3.6" fill="#e07b16" stroke="#c86a10" stroke-width="0.6"/>
<circle cx="422.6" cy="997.1" r="3.6" fill="#e07b16" stroke="#c86a10" stroke-width="0.6"/>
<rect x="557.5" y="763.3" width="65.2" height="33.1" fill="#fff" stroke="#8a8a8a" stroke-width="0.9"/>
<circle cx="572.1" cy="772.2" r="3.6" fill="#e07b16" stroke="#c86a10" stroke-width="0.6"/>
<text transform="translate(585.9 776.6)" font-size="11.5" text-anchor="start" fill="#111" font-family='"Liberation Sans", sans-serif' font-weight="normal" stroke="#111" stroke-width="0.25">Bituni</text>
<polygon points="572.4,782.9 576.6,790.2 568.2,790.2" fill="#9a9a9a" stroke="#8a8a8a" stroke-width="0.5"/>
<text transform="translate(585.9 791.7)" font-size="11.5" text-anchor="start" fill="#111" font-family='"Liberation Sans", sans-serif' font-weight="normal" stroke="#111" stroke-width="0.25">Baluti</text>
</svg>
</body></html>
